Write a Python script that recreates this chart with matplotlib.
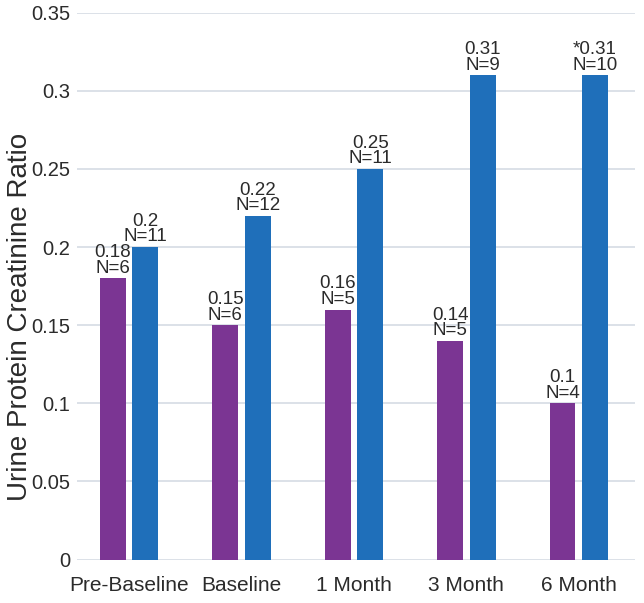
import numpy as np
import matplotlib.pyplot as plt

plt.rcParams['font.family'] = ['Liberation Sans', 'DejaVu Sans']

categories = ["Pre-Baseline", "Baseline", "1 Month", "3 Month", "6 Month"]
purple_vals = [0.18, 0.15, 0.16, 0.14, 0.10]
purple_n = [6, 6, 5, 5, 4]
blue_vals = [0.20, 0.22, 0.25, 0.31, 0.31]
blue_n = [11, 12, 11, 9, 10]
purple_lbl = ["0.18", "0.15", "0.16", "0.14", "0.1"]
blue_lbl = ["0.2", "0.22", "0.25", "0.31", "*0.31"]

fig = plt.figure(figsize=(6.44, 6.03), dpi=100)
ax = fig.add_axes([0.12, 0.072, 0.866, 0.907])

x = np.arange(len(categories))
w = 0.23
off = 0.145
purple = "#7B3593"
blue = "#1F6FBA"
txt = "#2b2b2b"

ax.bar(x - off, purple_vals, w, color=purple, zorder=2)
ax.bar(x + off, blue_vals, w, color=blue, zorder=2)

for i in range(len(categories)):
    ax.text(x[i] - off, purple_vals[i] + 0.001, purple_lbl[i] + "\nN=" + str(purple_n[i]),
            ha="center", va="bottom", fontsize=13.5, linespacing=0.9, color=txt)
    ax.text(x[i] + off, blue_vals[i] + 0.001, blue_lbl[i] + "\nN=" + str(blue_n[i]),
            ha="center", va="bottom", fontsize=13.5, linespacing=0.9, color=txt)

ax.set_xlim(-0.46, 4.5)
ax.set_ylim(0, 0.35)
ax.set_yticks(np.arange(0, 0.351, 0.05))
ax.set_yticklabels(["0", "0.05", "0.1", "0.15", "0.2", "0.25", "0.3", "0.35"])
ax.set_xticks(x)
ax.set_xticklabels(categories)
ax.tick_params(axis="y", length=0, labelsize=14.5, colors=txt, pad=5)
ax.tick_params(axis="x", length=0, labelsize=15, colors=txt, pad=12)
ax.grid(axis="y", color="#D5DCE4", linewidth=1.2, zorder=0)
for s in ax.spines.values():
    s.set_visible(False)
ax.set_ylabel("Urine Protein Creatinine Ratio", fontsize=20, color=txt)
ax.yaxis.set_label_coords(-0.08, 0.444)

fig.savefig("out.png", dpi=100)
